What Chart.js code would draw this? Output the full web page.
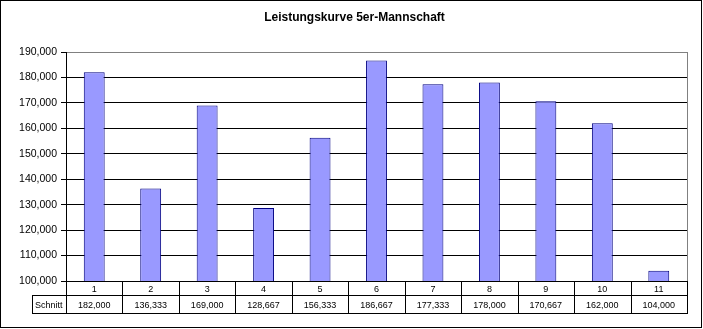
<!DOCTYPE html>
<html>
<head>
<meta charset="utf-8">
<script src="https://cdn.jsdelivr.net/npm/chart.js@4"></script>
<style>
  html, body { margin: 0; padding: 0; background: #fff; }
  #wrap { width: 703px; height: 329px; }
</style>
</head>
<body>
<div id="wrap"><canvas id="chart"></canvas></div>
<script>
// Spiele 1..11 und der Schnitt der 5er-Mannschaft
const spiele = ["1", "2", "3", "4", "5", "6", "7", "8", "9", "10", "11"];
const schnitt = [182000, 136333, 169000, 128667, 156333, 186667, 177333, 178000, 170667, 162000, 104000];
const rowLabel = "Schnitt";
const chartTitle = "Leistungskurve 5er-Mannschaft";

const yMin = 100000;
const yMax = 190000;
const yStep = 10000;

const fmt = v => Math.round(v).toLocaleString("en-US");

// Titel, Datentabelle unter dem Diagramm + Rahmen
const tablePlugin = {
  id: "dataTable",
  afterDraw(chart) {
    const { ctx, chartArea } = chart;
    const x = chart.scales.x;
    const left = chartArea.left, right = chartArea.right, bottom = chartArea.bottom;
    const row1 = 14, row2 = 17.5;
    const labelLeft = 32;

    ctx.save();

    // title, centred over the whole frame
    ctx.fillStyle = "#000";
    ctx.font = "bold 12px 'Liberation Sans', Arial, sans-serif";
    ctx.textAlign = "center";
    ctx.textBaseline = "middle";
    ctx.fillText(chartTitle, 354.5, 17.5);

    ctx.lineWidth = 1;

    // gray plot border on the right
    ctx.beginPath();
    ctx.strokeStyle = "#808080";
    ctx.moveTo(Math.round(right) + 0.5, chartArea.top);
    ctx.lineTo(Math.round(right) + 0.5, bottom);
    ctx.stroke();

    ctx.strokeStyle = "#000";
    ctx.beginPath();
    const yA = Math.round(bottom) + 0.5;
    const yB = Math.round(bottom + row1) + 0.5;
    const yC = Math.round(bottom + row1 + row2) + 0.5;
    // horizontal lines
    ctx.moveTo(left, yA); ctx.lineTo(right + 1, yA);
    ctx.moveTo(labelLeft, yB); ctx.lineTo(right + 1, yB);
    ctx.moveTo(labelLeft, yC); ctx.lineTo(right + 1, yC);
    // vertical lines
    ctx.moveTo(labelLeft + 0.5, yB); ctx.lineTo(labelLeft + 0.5, yC);
    ctx.moveTo(Math.round(left) + 0.5, yA); ctx.lineTo(Math.round(left) + 0.5, yC);
    const w = (right - left) / spiele.length;
    for (let i = 1; i <= spiele.length; i++) {
      const xx = Math.round(left + i * w) + 0.5;
      ctx.moveTo(xx, yA); ctx.lineTo(xx, yC);
    }
    ctx.stroke();

    ctx.fillStyle = "#000";
    ctx.font = "9px 'Liberation Sans', Arial, sans-serif";
    spiele.forEach((s, i) => {
      const cx = x.getPixelForValue(i);
      ctx.fillText(s, cx, (yA + yB) / 2 + 1);
      ctx.fillText(fmt(schnitt[i]), cx, (yB + yC) / 2 + 1);
    });
    ctx.textAlign = "left";
    ctx.fillText(rowLabel, labelLeft + 3, (yB + yC) / 2 + 1);

    // outer frame
    ctx.strokeStyle = "#000";
    ctx.strokeRect(0.5, 0.5, 701, 327);
    ctx.restore();
  }
};

new Chart(document.getElementById("chart"), {
  type: "bar",
  data: {
    labels: spiele,
    datasets: [{
      label: rowLabel,
      data: schnitt,
      backgroundColor: "#9999FF",
      borderColor: "#000080",
      borderWidth: 1,
      categoryPercentage: 1,
      barPercentage: 0.37
    }]
  },
  options: {
    responsive: true,
    maintainAspectRatio: false,
    animation: false,
    layout: { padding: { left: 6, right: 16, top: 52, bottom: 48 } },
    plugins: {
      legend: { display: false },
      tooltip: { enabled: false },
      title: { display: false }
    },
    scales: {
      x: { display: false },
      y: {
        min: yMin,
        max: yMax,
        afterFit: scale => { scale.width = 60; },
        border: { display: true, color: "#000", width: 1 },
        grid: {
          color: ctx => ctx.tick && ctx.tick.value === yMax ? "#808080" : "#000",
          lineWidth: 1,
          drawTicks: true,
          tickLength: 5,
          tickColor: "#000"
        },
        ticks: {
          stepSize: yStep,
          padding: 4,
          color: "#000",
          font: { family: "'Liberation Sans', Arial, sans-serif", size: 10.5 },
          callback: v => fmt(v)
        }
      }
    }
  },
  plugins: [tablePlugin]
});
</script>
</body>
</html>
